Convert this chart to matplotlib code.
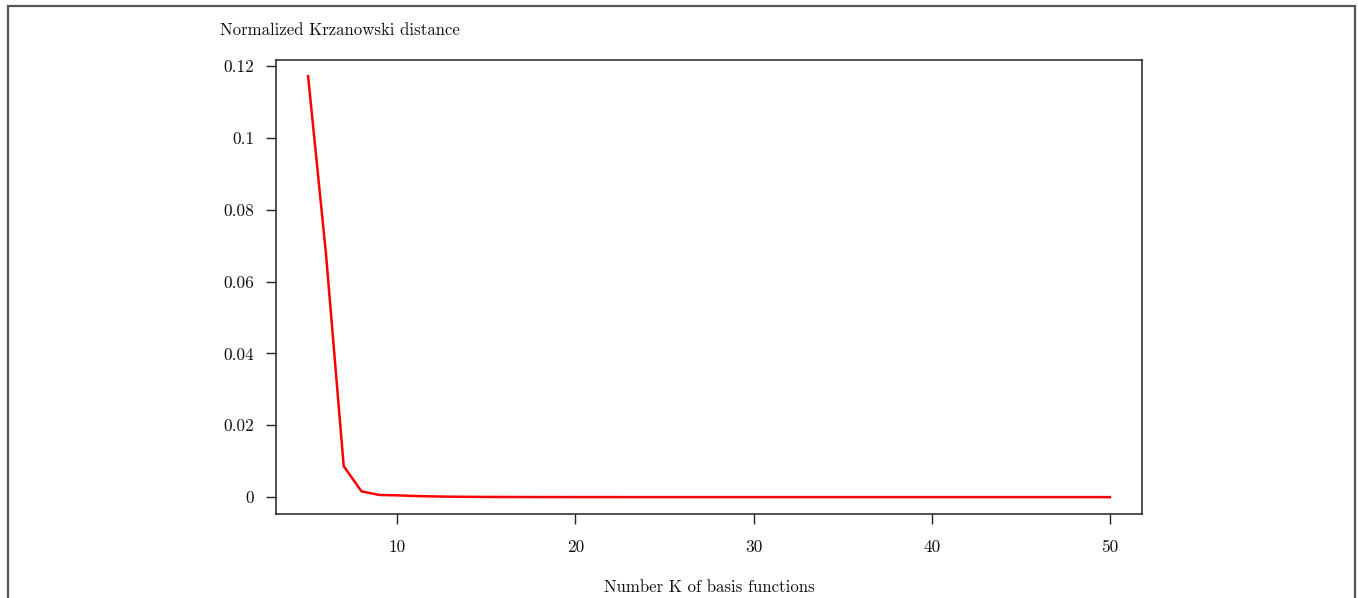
import numpy as np
import matplotlib
matplotlib.use("Agg")
import matplotlib.pyplot as plt
from matplotlib.patches import Rectangle

# number of basis functions K and the normalized Krzanowski distance
n_basis = list(range(5, 51))
krz_dist = [0.1172, 0.0680, 0.0086, 0.0016, 0.0006, 0.0005, 0.0003, 0.0002,
            0.00012, 0.00008, 0.00005, 0.00004, 0.00003, 0.00002, 0.00002,
            0.00001, 0.00001, 0.00001, 0.0, 0.0, 0.0, 0.0, 0.0, 0.0, 0.0,
            0.0, 0.0, 0.0, 0.0, 0.0, 0.0, 0.0, 0.0, 0.0, 0.0, 0.0, 0.0,
            0.0, 0.0, 0.0, 0.0, 0.0, 0.0, 0.0, 0.0, 0.0]

xticks = [10, 20, 30, 40, 50]
yticks = [0, 0.02, 0.04, 0.06, 0.08, 0.1, 0.12]
ytick_labels = ['0', '0.02', '0.04', '0.06', '0.08', '0.1', '0.12']

plt.rcParams['font.family'] = ['cmr10', 'DejaVu Serif']
plt.rcParams['axes.formatter.use_mathtext'] = True

W, H = 1358, 598
fig = plt.figure(figsize=(W/100., H/100.), dpi=100)

# outer frame round the figure (bottom edge cut off)
fig.patches.append(Rectangle((8./W, -0.05), 1347./W, 1.05-6./H,
                             transform=fig.transFigure, fill=False,
                             edgecolor='#555555', linewidth=1.6))

ax = fig.add_axes([276./W, 1-514./H, (1142-276.)/W, (514-60.)/H])
ax.plot(n_basis, krz_dist, color='red', linewidth=1.8)

ax.set_xlim(3.2, 51.8)
ax.set_ylim(-0.0047, 0.1217)
ax.set_xticks(xticks)
ax.set_xticklabels([str(t) for t in xticks])
ax.set_yticks(yticks)
ax.set_yticklabels(ytick_labels)

for s in ax.spines.values():
    s.set_linewidth(1.1)
    s.set_color('#222222')
ax.tick_params(axis='both', direction='out', length=7.5, width=1.0,
               color='#222222', labelsize=12.5, labelcolor='#111111')
ax.tick_params(axis='x', pad=11)
ax.tick_params(axis='y', pad=8)

fig.text(709./W, 1-587./H, 'Number K of basis functions', ha='center',
         va='center', fontsize=12.1, color='#111111')
fig.text(220./W, 1-30./H, 'Normalized Krzanowski distance', ha='left',
         va='center', fontsize=12.1, color='#111111')

fig.savefig('out.png', dpi=100)
